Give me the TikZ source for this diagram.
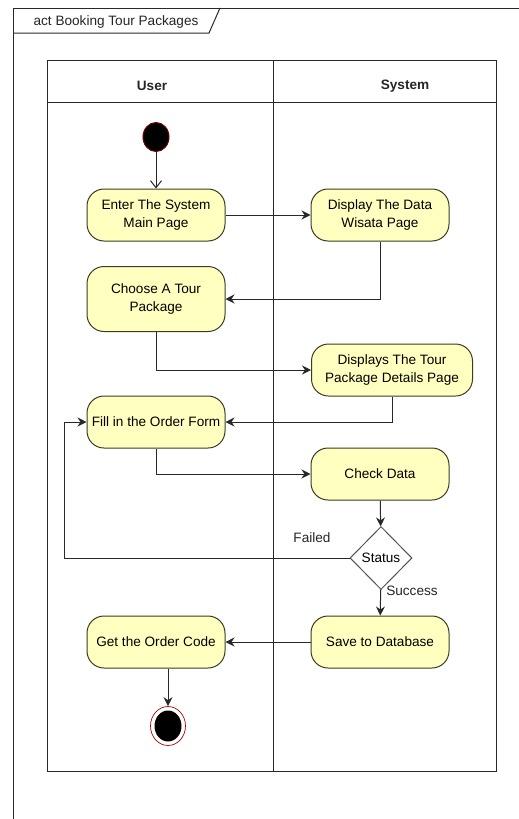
\documentclass[tikz,border=0pt]{standalone}
\usepackage{fontspec}
\setmainfont{Liberation Sans}
\usetikzlibrary{shapes.geometric,arrows.meta}
\definecolor{actfill}{RGB}{255,255,192}
\definecolor{actline}{RGB}{60,60,35}
\definecolor{lineclr}{RGB}{40,40,40}
\definecolor{darkred}{RGB}{110,0,0}

\begin{document}
\begin{tikzpicture}[x=1pt,y=-1pt,line width=1pt,
    font=\fontsize{13.6}{18}\selectfont,
    action/.style={draw=actline, fill=actfill, rounded corners=17pt,
        minimum width=138pt, minimum height=52pt, align=center, inner sep=2pt},
    flow/.style={draw=lineclr, -{Stealth[length=9pt,width=9pt,inset=3pt]}},
    label/.style={inner sep=1pt, text=black!85}]
    \useasboundingbox[fill=white] (0,0) rectangle (519,819);

    % Frame and title tab
    \draw[lineclr] (13,819) -- (13,8) -- (519,8);
    \draw[lineclr] (13,33) -- (209,33) -- (220,8);
    \node[label] (title) at (116,22) {act Booking Tour Packages};

    % Swimlanes
    \draw[lineclr] (47,60) rectangle (496,771);
    \draw[lineclr] (47,102) -- (496,102);
    \draw[lineclr] (273,60) -- (273,771);
    \node[label] (user) at (152,86) {\bfseries User};
    \node[label] (system) at (405,86) {\bfseries System};

    % Define actions
    \node[ellipse, draw=darkred, fill=black, minimum width=26pt, minimum height=29pt] (start) at (156,137) {};
    \node[action] (enter) at (156,215) {Enter The System\\Main Page};
    \node[action] (display) at (380,215) {Display The Data\\Wisata Page};
    \node[action, minimum height=65pt] (choose) at (156,299) {Choose A Tour\\Package};
    \node[action, minimum width=161pt] (details) at (392,370) {Displays The Tour\\Package Details Page};
    \node[action] (fill) at (156,422) {Fill in the Order Form};
    \node[action] (check) at (380,474) {Check Data};
    \node[diamond, draw=lineclr!80, fill=white, aspect=1, inner sep=0pt,
        minimum width=62pt, minimum height=63pt] (status) at (381,558) {Status};
    \node[action] (save) at (380,642) {Save to Database};
    \node[action] (get) at (156,642) {Get the Order Code};
    \node[ellipse, draw=red!70!black, line width=0.7pt, minimum width=35pt, minimum height=39pt] (final) at (168,726) {};
    \fill[black] (final.center) ellipse [x radius=13.5, y radius=15.5];
    \coordinate (loop) at (64,558);

    % Draw flows
    \draw[lineclr, -{Straight Barb[length=7pt,width=11pt]}] (start) -- (enter);
    \foreach \src/\dst in {enter/display, check/status, status/save, save/get} {
        \draw[flow] (\src) -- (\dst);
    }
    \draw[flow] (display.south) |- (choose.east);
    \draw[flow] (choose.south) |- (details.west);
    \draw[flow] (details.south) |- (fill.east);
    \draw[flow] (fill.south) |- (check.west);
    \draw[flow] (status.west) -- (loop) |- (fill.west);
    \draw[flow] (final |- get.south) -- (final.north);

    % Guards
    \node[label] (failed) at (312,538) {Failed};
    \node[label] (success) at (412,591) {Success};
\end{tikzpicture}
\end{document}
